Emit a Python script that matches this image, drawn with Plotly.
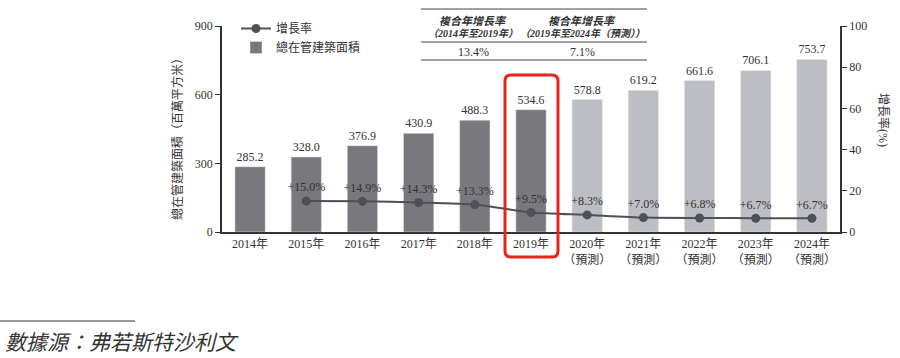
import plotly.graph_objects as go

years = ["2014年", "2015年", "2016年", "2017年", "2018年", "2019年",
         "2020年<br>（預測）", "2021年<br>（預測）", "2022年<br>（預測）",
         "2023年<br>（預測）", "2024年<br>（預測）"]
area = [285.2, 328.0, 376.9, 430.9, 488.3, 534.6, 578.8, 619.2, 661.6, 706.1, 753.7]
is_forecast = [False] * 6 + [True] * 5
growth_years = years[1:]
growth = [15.0, 14.9, 14.3, 13.3, 9.5, 8.3, 7.0, 6.8, 6.7, 6.7]
cagr_titles = ["複合年增長率", "複合年增長率"]
cagr_periods = ["（2014年至2019年）", "（2019年至2024年（預測））"]
cagr_values = ["13.4%", "7.1%"]

FONT = "Liberation Serif, Noto Sans CJK TC, serif"
DARK = "#78787d"
LIGHT = "#bdbec3"
LINE = "#4d5058"
TXT = "#333333"

fig = go.Figure()

fig.add_trace(go.Scatter(
    x=growth_years, y=growth, yaxis="y2", name="增長率",
    mode="lines+markers+text",
    line=dict(color=LINE, width=2, shape="spline", smoothing=0.6),
    marker=dict(color=LINE, size=9),
    text=[f"+{v:.1f}%" for v in growth], textposition="top center",
    textfont=dict(family=FONT, size=12, color=TXT),
    cliponaxis=False,
))

hist_x = [y for y, f in zip(years, is_forecast) if not f]
hist_v = [v for v, f in zip(area, is_forecast) if not f]
fc_x = [y for y, f in zip(years, is_forecast) if f]
fc_v = [v for v, f in zip(area, is_forecast) if f]

fig.add_trace(go.Bar(
    x=hist_x, y=hist_v, name="總在管建築面積", marker_color=DARK,
    text=[f"{v:.1f}" for v in hist_v], textposition="outside",
    textfont=dict(family=FONT, size=12, color=TXT), cliponaxis=False,
))
fig.add_trace(go.Bar(
    x=fc_x, y=fc_v, name="總在管建築面積（預測）", marker_color=LIGHT, showlegend=False,
    text=[f"{v:.1f}" for v in fc_v], textposition="outside",
    textfont=dict(family=FONT, size=12, color=TXT), cliponaxis=False,
))

L, R, T, B = 222, 60, 26, 126
W, H = 900, 358
pw = W - L - R
ph = H - T - B

def px(x):
    return (x - L) / pw

def py(y):
    return (H - B - y) / ph

shapes = []
for yy in (9, 42, 60):
    shapes.append(dict(type="line", xref="paper", yref="paper",
                       x0=px(421), x1=px(647), y0=py(yy), y1=py(yy),
                       line=dict(color="#444444", width=1.2)))
shapes.append(dict(type="line", xref="paper", yref="paper",
                   x0=px(0), x1=px(135), y0=py(321), y1=py(321),
                   line=dict(color="#333333", width=1.2)))
x0, x1, y0, y1 = 505, 558, 75, 257
r = 6
rx, ry = r / pw, r / ph
X0, X1, Y0, Y1 = px(x0), px(x1), py(y1), py(y0)
path = (f"M {X0+rx},{Y1} L {X1-rx},{Y1} Q {X1},{Y1} {X1},{Y1-ry} "
        f"L {X1},{Y0+ry} Q {X1},{Y0} {X1-rx},{Y0} L {X0+rx},{Y0} "
        f"Q {X0},{Y0} {X0},{Y0+ry} L {X0},{Y1-ry} Q {X0},{Y1} {X0+rx},{Y1} Z")
shapes.append(dict(type="path", xref="paper", yref="paper", path=path,
                   line=dict(color="#e8221e", width=3)))

annotations = []
for cx, t1, t2, val in zip((473, 582), cagr_titles, cagr_periods, cagr_values):
    annotations.append(dict(xref="paper", yref="paper", x=px(cx), y=py(21), text=f"<b><i>{t1}</i></b>",
                            showarrow=False, font=dict(family=FONT, size=11, color=TXT),
                            xanchor="center", yanchor="middle"))
    annotations.append(dict(xref="paper", yref="paper", x=px(cx), y=py(33), text=f"<b><i>{t2}</i></b>",
                            showarrow=False, font=dict(family=FONT, size=10, color=TXT),
                            xanchor="center", yanchor="middle"))
    annotations.append(dict(xref="paper", yref="paper", x=px(cx), y=py(52), text=val,
                            showarrow=False, font=dict(family=FONT, size=12, color=TXT),
                            xanchor="center", yanchor="middle"))
annotations.append(dict(xref="paper", yref="paper", x=px(177), y=py(136),
                        text="總在管建築面積（百萬平方米）", textangle=-90, showarrow=False,
                        font=dict(family=FONT, size=12, color=TXT), xanchor="center", yanchor="middle"))
annotations.append(dict(xref="paper", yref="paper", x=px(884), y=py(120),
                        text="增長率(%)", textangle=90, showarrow=False,
                        font=dict(family=FONT, size=12, color=TXT), xanchor="center", yanchor="middle"))
annotations.append(dict(xref="paper", yref="paper", x=px(3), y=py(343),
                        text="<i>數據源：弗若斯特沙利文</i>", showarrow=False,
                        font=dict(family=FONT, size=21, color=TXT), xanchor="left", yanchor="middle"))

fig.update_layout(
    width=W, height=H,
    margin=dict(l=L, r=R, t=T, b=B, pad=0),
    paper_bgcolor="white", plot_bgcolor="white",
    font=dict(family=FONT, size=12, color=TXT),
    bargap=0.46,
    showlegend=True,
    legend=dict(x=px(236), y=py(14), xanchor="left", yanchor="top",
                bgcolor="rgba(0,0,0,0)", font=dict(family=FONT, size=12, color=TXT),
                traceorder="normal", itemwidth=30, tracegroupgap=2),
    xaxis=dict(type="category", categoryorder="array", categoryarray=years,
               range=[-0.5, 10.5], showline=True, linecolor="#333333", linewidth=1.5,
               ticks="", showgrid=False, tickfont=dict(family=FONT, size=12, color=TXT)),
    yaxis=dict(range=[0, 900], tickvals=[0, 300, 600, 900], showline=True,
               linecolor="#333333", linewidth=1.5, ticks="outside", ticklen=5,
               tickcolor="#333333", showgrid=False, zeroline=False,
               tickfont=dict(family=FONT, size=12, color=TXT)),
    yaxis2=dict(range=[0, 100], tickvals=[0, 20, 40, 60, 80, 100], overlaying="y",
                side="right", showline=True, linecolor="#333333", linewidth=1.5,
                ticks="outside", ticklen=5, tickcolor="#333333", showgrid=False,
                zeroline=False, tickfont=dict(family=FONT, size=12, color=TXT)),
    shapes=shapes,
    annotations=annotations,
)

fig.write_html("out.html", config={"displayModeBar": False},
               post_script="document.body.style.margin='0';document.body.style.overflow='hidden';")
